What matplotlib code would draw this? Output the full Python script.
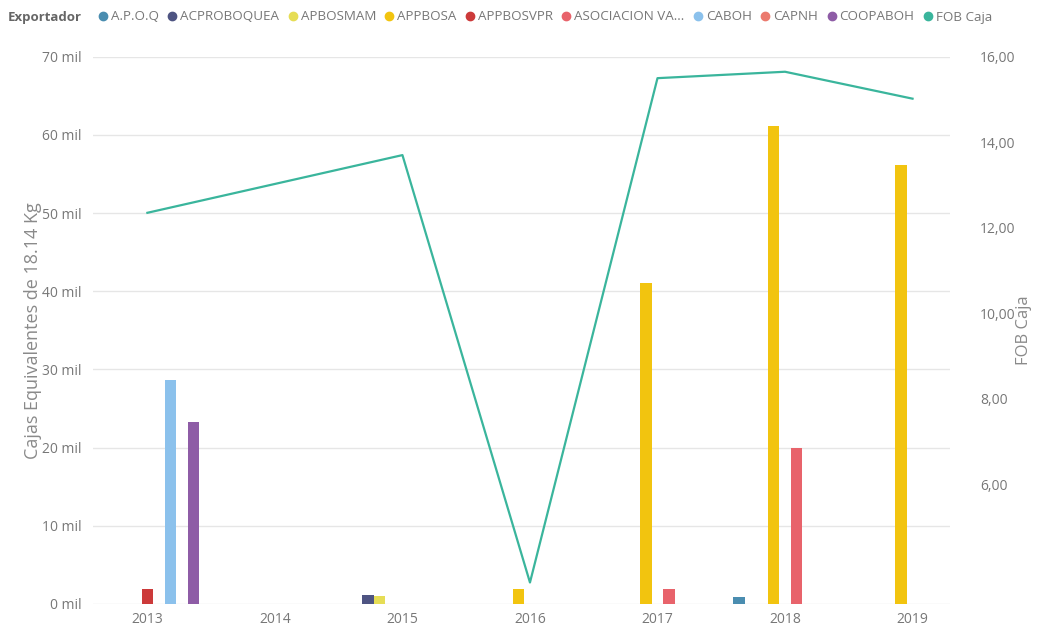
import numpy as np
import matplotlib.pyplot as plt
from matplotlib.lines import Line2D
from matplotlib.ticker import FuncFormatter

plt.rcParams['font.family'] = ['Open Sans', 'DejaVu Sans']

years = [2013, 2014, 2015, 2016, 2017, 2018, 2019]
exporters = ['A.P.O.Q', 'ACPROBOQUEA', 'APBOSMAM', 'APPBOSA', 'APPBOSVPR',
             'ASOCIACION VA...', 'CABOH', 'CAPNH', 'COOPABOH']
colors = ['#4A8DB0', '#4E5482', '#E6DD55', '#F2C40F', '#CC3A3A',
          '#E8636B', '#8BC1EC', '#EB7A6E', '#8E5CA6']

# cajas por exportador y año (nan = sin dato)
n = np.nan
apoq        = [n, n, n, n, n, 900, n]
acproboquea = [n, n, 1100, n, n, n, n]
apbosmam    = [n, n, 1000, n, n, n, n]
appbosa     = [n, n, n, 1900, 41100, 61200, 56200]
appbosvpr   = [1900, n, n, n, n, n, n]
asociacion  = [n, n, n, n, 1900, 20000, n]
caboh       = [28600, n, n, n, n, n, n]
capnh       = [n, n, n, n, n, n, n]
coopaboh    = [23300, n, n, n, n, n, n]
series = [apoq, acproboquea, apbosmam, appbosa, appbosvpr,
          asociacion, caboh, capnh, coopaboh]

fob_years = [2013, 2015, 2016, 2017, 2018, 2019]
fob_values = [12.35, 13.7, 3.7, 15.5, 15.65, 15.02]

fig = plt.figure(figsize=(10.4, 6.31), dpi=100)
ax = fig.add_axes([0.089, 0.043, 0.824, 0.867])
ax2 = ax.twinx()

slot = 0.09
for i, vals in enumerate(series):
    x = np.array(years) + (i - 4) * slot
    ax.bar(x, np.nan_to_num(np.array(vals, dtype=float)), width=0.088,
           color=colors[i], zorder=3)

ax2.plot(fob_years, fob_values, color='#3AB59C', linewidth=1.6)

ax.set_xlim(2012.57, 2019.29)
ax.set_ylim(0, 70000)
ax.set_yticks(np.arange(0, 70001, 10000))
ax.yaxis.set_major_formatter(FuncFormatter(lambda v, p: f'{int(v / 1000)} mil'))
ax.set_xticks(years)
ax.grid(axis='y', color='#E6E6E6', linewidth=1, zorder=0)
ax.set_axisbelow(True)

ax2.set_ylim(3.2, 16.0)
ax2.set_yticks([6, 8, 10, 12, 14, 16])
ax2.yaxis.set_major_formatter(FuncFormatter(lambda v, p: f'{v:.2f}'.replace('.', ',')))

for a in (ax, ax2):
    for s in a.spines.values():
        s.set_visible(False)
    a.tick_params(length=0, colors='#777777', labelsize=10)
ax.tick_params(axis='x', pad=6)
ax.tick_params(axis='y', pad=8)
ax2.tick_params(axis='y', pad=22)

ax.set_ylabel('Cajas Equivalentes de 18.14 Kg', color='#8A8A8A', fontsize=13, labelpad=0)
ax2.set_ylabel('FOB Caja', color='#8A8A8A', fontsize=12, labelpad=0)

# leyenda
fig.text(8 / 1040, 1 - 17 / 631, 'Exportador', color='#666666', fontsize=9.5,
         fontweight='bold', va='center')
handles = [Line2D([], [], marker='o', linestyle='', color=c, markersize=6) for c in colors]
handles.append(Line2D([], [], marker='o', linestyle='', color='#3AB59C', markersize=6))
labels = exporters + ['FOB Caja']
fig.legend(handles, labels, loc='center left', bbox_to_anchor=(99 / 1040, 1 - 17 / 631),
           ncol=10, frameon=False, fontsize=9.6, labelcolor='#777777',
           handlelength=0.6, handletextpad=0.3, columnspacing=0.7, borderpad=0,
           borderaxespad=0)

fig.savefig('out.png', dpi=100)
